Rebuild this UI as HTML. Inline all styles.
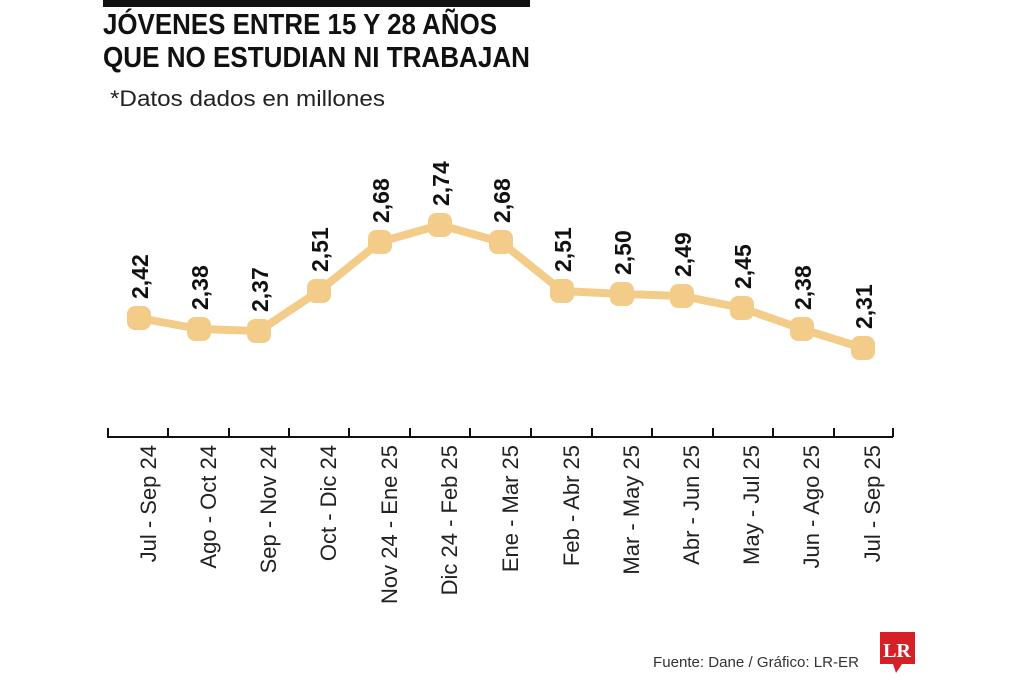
<!DOCTYPE html>
<html><head><meta charset="utf-8"><style>body{margin:0;background:#fff}svg{display:block}</style></head><body>
<svg width="1024" height="683" xmlns="http://www.w3.org/2000/svg" font-family="Liberation Sans, sans-serif">
<rect width="1024" height="683" fill="#fff"/>
<rect x="103" y="0" width="427" height="7" fill="#111"/>
<text x="103" y="34" font-size="29" font-weight="bold" fill="#111" textLength="394" lengthAdjust="spacingAndGlyphs">JÓVENES ENTRE 15 Y 28 AÑOS</text>
<text x="103" y="67" font-size="29" font-weight="bold" fill="#111" textLength="427" lengthAdjust="spacingAndGlyphs">QUE NO ESTUDIAN NI TRABAJAN</text>
<text x="110" y="106" font-size="22" fill="#222" textLength="275" lengthAdjust="spacingAndGlyphs">*Datos dados en millones</text>
<g stroke="#111" stroke-width="2" fill="none">
<line x1="107" y1="437" x2="893" y2="437"/>
<path d="M108 428V437M168 428V437M229 428V437M289 428V437M349 428V437M410 428V437M470 428V437M531 428V437M592 428V437M652 428V437M713 428V437M773 428V437M834 428V437M893 428V437"/>
</g>
<polyline fill="none" stroke="#f4cc8a" stroke-width="8" stroke-linejoin="round" points="139,318 199,329 259,331 319,291 380,242 440,225 501,242 562,291 622,294 682,296 742,308 802,329 863,348"/>
<g fill="#f4cc8a">
<rect x="127" y="306" width="24" height="24" rx="8"/><rect x="187" y="317" width="24" height="24" rx="8"/><rect x="247" y="319" width="24" height="24" rx="8"/><rect x="307" y="279" width="24" height="24" rx="8"/><rect x="368" y="230" width="24" height="24" rx="8"/><rect x="428" y="213" width="24" height="24" rx="8"/><rect x="489" y="230" width="24" height="24" rx="8"/><rect x="550" y="279" width="24" height="24" rx="8"/><rect x="610" y="282" width="24" height="24" rx="8"/><rect x="670" y="284" width="24" height="24" rx="8"/><rect x="730" y="296" width="24" height="24" rx="8"/><rect x="790" y="317" width="24" height="24" rx="8"/><rect x="851" y="336" width="24" height="24" rx="8"/>
</g>
<g font-size="23" font-weight="bold" fill="#111">
<text transform="translate(148,299) rotate(-90)">2,42</text>
<text transform="translate(208,310) rotate(-90)">2,38</text>
<text transform="translate(268,312) rotate(-90)">2,37</text>
<text transform="translate(328,272) rotate(-90)">2,51</text>
<text transform="translate(389,223) rotate(-90)">2,68</text>
<text transform="translate(449,206) rotate(-90)">2,74</text>
<text transform="translate(510,223) rotate(-90)">2,68</text>
<text transform="translate(571,272) rotate(-90)">2,51</text>
<text transform="translate(631,275) rotate(-90)">2,50</text>
<text transform="translate(691,277) rotate(-90)">2,49</text>
<text transform="translate(751,289) rotate(-90)">2,45</text>
<text transform="translate(811,310) rotate(-90)">2,38</text>
<text transform="translate(872,329) rotate(-90)">2,31</text>
</g>
<g font-size="22" fill="#222" text-anchor="end">
<text transform="translate(156,445) rotate(-90)">Jul - Sep 24</text>
<text transform="translate(216,445) rotate(-90)">Ago - Oct 24</text>
<text transform="translate(276,445) rotate(-90)">Sep - Nov 24</text>
<text transform="translate(336,445) rotate(-90)">Oct - Dic 24</text>
<text transform="translate(397,445) rotate(-90)">Nov 24 - Ene 25</text>
<text transform="translate(457,445) rotate(-90)">Dic 24 - Feb 25</text>
<text transform="translate(518,445) rotate(-90)">Ene - Mar 25</text>
<text transform="translate(579,445) rotate(-90)">Feb - Abr 25</text>
<text transform="translate(639,445) rotate(-90)">Mar - May 25</text>
<text transform="translate(699,445) rotate(-90)">Abr - Jun 25</text>
<text transform="translate(759,445) rotate(-90)">May - Jul 25</text>
<text transform="translate(819,445) rotate(-90)">Jun - Ago 25</text>
<text transform="translate(880,445) rotate(-90)">Jul - Sep 25</text>
</g>
<text x="653" y="667" font-size="15" fill="#333" textLength="206" lengthAdjust="spacingAndGlyphs">Fuente: Dane / Gráfico: LR-ER</text>
<rect x="880" y="632" width="35" height="32" fill="#d42027"/>
<polygon points="893,664 902,664 896,673" fill="#d42027"/>
<text x="897" y="657" font-size="20" font-weight="bold" font-family="Liberation Serif, serif" fill="#fff" text-anchor="middle">LR</text>
</svg>
</body></html>
